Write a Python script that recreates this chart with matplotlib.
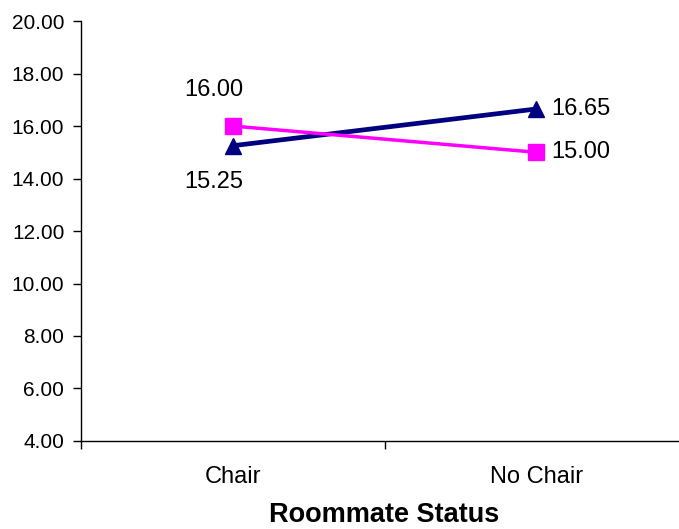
import numpy as np
import matplotlib.pyplot as plt
from matplotlib.ticker import FixedLocator

plt.rcParams['font.family'] = ['Liberation Sans', 'DejaVu Sans']

categories = ['Chair', 'No Chair']
series_tri = [15.25, 16.65]   # navy triangles
series_sq = [16.00, 15.00]    # magenta squares
yticks = [4, 6, 8, 10, 12, 14, 16, 18, 20]

fig = plt.figure(figsize=(6.79, 5.29), dpi=100)
ax = fig.add_axes([0.1193, 0.1664, 0.894, 0.7938])

x = np.arange(len(categories))
ax.plot(x, series_tri, color='#000080', lw=3.4, marker='^', markersize=12,
        zorder=3, clip_on=False)
ax.plot(x, series_sq, color='#FF00FF', lw=2.5, marker='s', markersize=11.5,
        zorder=4, clip_on=False)

# data labels
ax.annotate(f'{series_sq[0]:.2f}', (x[0], series_sq[0]), xytext=(-14, 26),
            textcoords='offset points', ha='center', va='center', fontsize=17)
ax.annotate(f'{series_tri[0]:.2f}', (x[0], series_tri[0]), xytext=(-14, -26),
            textcoords='offset points', ha='center', va='center', fontsize=17)
ax.annotate(f'{series_tri[1]:.2f}', (x[1], series_tri[1]), xytext=(11, 0),
            textcoords='offset points', ha='left', va='center', fontsize=17)
ax.annotate(f'{series_sq[1]:.2f}', (x[1], series_sq[1]), xytext=(11, 0),
            textcoords='offset points', ha='left', va='center', fontsize=17)

ax.set_ylim(4, 20)
ax.set_yticks(yticks)
ax.set_yticklabels([f'{v:.2f}' for v in yticks], fontsize=15)
ax.tick_params(axis='y', direction='out', length=6, width=1, pad=6)

ax.set_xlim(-0.5, 1.5)
ax.xaxis.set_major_locator(FixedLocator([-0.5, 0.5, 1.5]))
ax.set_xticklabels(['', '', ''])
ax.xaxis.set_minor_locator(FixedLocator(x))
ax.set_xticklabels(categories, minor=True, fontsize=17)
ax.tick_params(axis='x', which='major', direction='out', length=6, width=1)
ax.tick_params(axis='x', which='minor', length=0, pad=18)

ax.set_xlabel('Roommate Status', fontsize=19.5, fontweight='bold', labelpad=10)

for s in ['top', 'right']:
    ax.spines[s].set_visible(False)
for s in ['left', 'bottom']:
    ax.spines[s].set_linewidth(1)

fig.savefig('out.png', dpi=100)
